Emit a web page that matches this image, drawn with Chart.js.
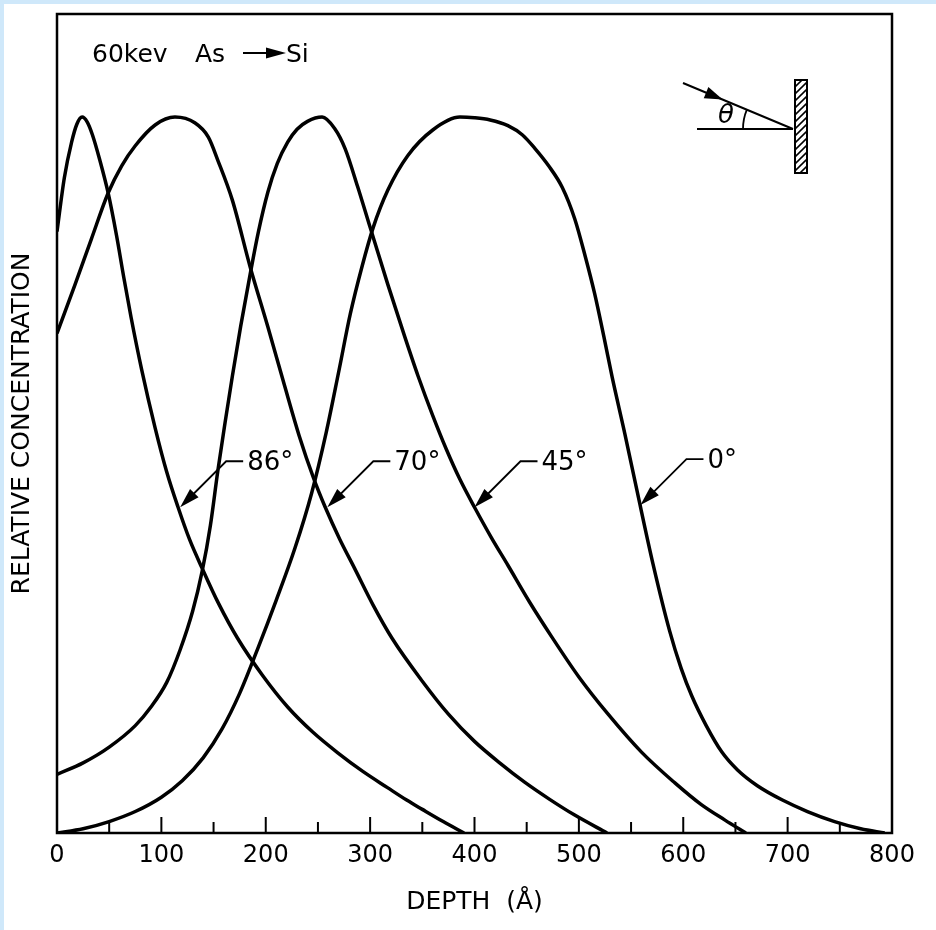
<!DOCTYPE html>
<html>
<head>
<meta charset="utf-8">
<script src="https://cdn.jsdelivr.net/npm/chart.js@4.4.1/dist/chart.umd.min.js"></script>
<style>
  html, body { margin: 0; padding: 0; background: #cfe8fa; }
  #wrap { position: absolute; left: 4px; top: 4px; width: 932px; height: 926px; background: #fff; }
</style>
</head>
<body>
<div id="wrap"><canvas id="myCanvas" width="932" height="926"></canvas></div>
<script>
'use strict';

// depth in angstrom, concentration relative to the peak (= 100)
const depth86 = [0, 7, 14, 19, 24, 29, 34, 41, 49, 57, 64, 71, 81, 94, 105, 116, 127, 139, 155, 173, 197, 221, 245, 269, 293, 317, 335, 350, 370, 390];
const conc86 = [84, 91.5, 96.5, 99, 100, 99.3, 97.5, 94, 89.4, 83.5, 77.6, 72, 64.8, 56.6, 50.5, 45.5, 41, 37, 32, 27.2, 22, 17.6, 14.1, 11.2, 8.6, 6.3, 4.6, 3.3, 1.6, 0];

const depth70 = [0, 17, 33, 49, 62, 75, 94, 113, 132, 145, 154, 168, 185, 202, 218, 232, 246, 257, 271, 285, 303, 321, 350, 375, 400, 425, 448, 472, 496, 527];
const conc70 = [69.8, 76.5, 83, 89.4, 93.2, 96, 98.9, 100, 99.2, 97.2, 94.0, 88.4, 79.1, 70.7, 62.5, 55.5, 49.5, 45.5, 41, 37, 31.8, 27.2, 21.2, 16.6, 12.8, 9.7, 7.1, 4.7, 2.5, 0];

const depth45 = [0, 25, 50, 75, 90, 105, 118, 130, 139, 147, 154, 161, 168, 176, 185, 193, 202, 211, 221, 230, 240, 254, 266, 276, 288, 300, 317, 333, 346, 360, 373, 386, 400, 416, 432, 453, 474, 500, 528, 560, 592, 617, 640, 660];
const conc45 = [8.2, 9.8, 12.0, 15.0, 17.6, 21.0, 25.6, 31.0, 36.5, 43.0, 50.5, 57.3, 63.8, 70.8, 78, 84, 89.5, 93.5, 96.5, 98.3, 99.4, 100, 98.4, 95.6, 90.3, 84.6, 76.6, 69.4, 63.8, 58.3, 53.6, 49.4, 45.5, 41.3, 37.4, 32.2, 27.4, 21.8, 16.6, 11.3, 7.0, 4.0, 1.8, 0];

const depth0 = [0, 25, 50, 75, 100, 120, 140, 158, 175, 193, 210, 228, 244, 258, 270, 281, 292, 303, 317, 336, 360, 386, 400, 415, 432, 446, 458, 471, 484, 496, 506, 515, 524, 532, 544, 556, 571, 587, 598, 608, 622, 637, 652, 671, 695, 719, 745, 770, 793];
const conc0 = [0, 0.6, 1.6, 3.0, 5.0, 7.3, 10.5, 14.5, 19.5, 26, 32.5, 39.8, 47.5, 56, 64.5, 72.5, 79, 84.6, 89.8, 94.6, 98.2, 100, 99.9, 99.6, 98.8, 97.5, 95.6, 93.2, 90.2, 85.8, 80.6, 75.4, 69.3, 63.6, 55.8, 47.6, 37.6, 28.2, 23.0, 19.2, 15.0, 11.3, 8.8, 6.6, 4.6, 3.0, 1.6, 0.6, 0];

// curve labels and where their arrows point (depth, concentration)
const angleLabels = ['86°', '70°', '45°', '0°'];
const labelTipDepth = [118, 259, 400, 559];
const labelTipConc = [45.5, 45.5, 45.5, 45.8];

const FONT = "'DejaVu Sans', sans-serif";

function toPoints(depths, concs) {
  return depths.map((d, i) => ({ x: d, y: concs[i] }));
}

function arrowHead(ctx, tx, ty, fx, fy, len, half) {
  const a = Math.atan2(ty - fy, tx - fx);
  ctx.beginPath();
  ctx.moveTo(tx, ty);
  ctx.lineTo(tx - len * Math.cos(a) + half * Math.sin(a), ty - len * Math.sin(a) - half * Math.cos(a));
  ctx.lineTo(tx - len * Math.cos(a) - half * Math.sin(a), ty - len * Math.sin(a) + half * Math.cos(a));
  ctx.closePath();
  ctx.fill();
}

const decorations = {
  id: 'decorations',
  afterDatasetsDraw(chart) {
    const { ctx, chartArea: a, scales: { x, y } } = chart;
    ctx.save();
    ctx.strokeStyle = '#000';
    ctx.fillStyle = '#000';

    // frame
    ctx.lineWidth = 2.5;
    ctx.strokeRect(a.left, a.top, a.right - a.left, a.bottom - a.top);

    // inward ticks on the depth axis, major every 100, minor every 50
    ctx.lineWidth = 2;
    for (let v = 0; v <= 800; v += 50) {
      const px = x.getPixelForValue(v);
      const len = v % 100 === 0 ? 16 : 11;
      ctx.beginPath();
      ctx.moveTo(px, a.bottom);
      ctx.lineTo(px, a.bottom - len);
      ctx.stroke();
    }

    // title inside the frame
    ctx.font = '25px ' + FONT;
    ctx.textBaseline = 'alphabetic';
    ctx.textAlign = 'left';
    const by = a.top + 48;
    ctx.fillText('60kev', a.left + 35, by);
    ctx.fillText('As', a.left + 138, by);
    ctx.fillText('Si', a.left + 229, by);
    ctx.lineWidth = 2;
    ctx.beginPath();
    ctx.moveTo(a.left + 186, a.top + 39);
    ctx.lineTo(a.left + 215, a.top + 39);
    ctx.stroke();
    arrowHead(ctx, a.left + 229, a.top + 39, a.left + 186, a.top + 39, 20, 5.5);

    // geometry inset
    const ox = a.right - 99, oy = a.top + 115;
    ctx.lineWidth = 2;
    ctx.beginPath();
    ctx.moveTo(ox - 110, oy - 46);
    ctx.lineTo(ox, oy);
    ctx.moveTo(ox - 96, oy);
    ctx.lineTo(ox, oy);
    ctx.stroke();
    const ang = Math.atan2(46, 110);
    const hx = ox - 110 + 43 * Math.cos(ang), hy = oy - 46 + 43 * Math.sin(ang);
    arrowHead(ctx, hx, hy, ox - 110, oy - 46, 18, 6);
    ctx.lineWidth = 1.8;
    ctx.beginPath();
    ctx.arc(ox, oy, 50, Math.PI, Math.PI + ang);
    ctx.stroke();
    ctx.font = 'italic 26px ' + FONT;
    ctx.textAlign = 'center';
    ctx.textBaseline = 'middle';
    ctx.fillText('θ', ox - 67, oy - 13);
    // hatched wall
    const rx = ox + 2, ry = oy - 49, rw = 12, rh = 93;
    ctx.save();
    ctx.beginPath();
    ctx.rect(rx, ry, rw, rh);
    ctx.clip();
    ctx.lineWidth = 1.6;
    for (let k = -rw; k < rh + rw; k += 7) {
      ctx.beginPath();
      ctx.moveTo(rx, ry + k + rw);
      ctx.lineTo(rx + rw, ry + k);
      ctx.stroke();
    }
    ctx.restore();
    ctx.lineWidth = 2;
    ctx.strokeRect(rx, ry, rw, rh);

    // curve labels with leader arrows
    ctx.font = '26px ' + FONT;
    ctx.textAlign = 'left';
    ctx.textBaseline = 'middle';
    for (let i = 0; i < angleLabels.length; i++) {
      const tx = x.getPixelForValue(labelTipDepth[i]);
      const ty = y.getPixelForValue(labelTipConc[i]);
      const ex = tx + 46, ey = ty - 46;
      ctx.lineWidth = 1.8;
      ctx.beginPath();
      ctx.moveTo(tx + 6, ty - 6);
      ctx.lineTo(ex, ey);
      ctx.lineTo(ex + 17, ey);
      ctx.stroke();
      arrowHead(ctx, tx, ty, ex, ey, 20, 6);
      ctx.fillText(angleLabels[i], ex + 21, ey + 2);
    }
    ctx.restore();
  }
};

const lineStyle = { borderColor: '#000', borderWidth: 3.5, pointRadius: 0, fill: false, cubicInterpolationMode: 'monotone' };

const config = {
  type: 'line',
  data: {
    datasets: [
      Object.assign({ label: '86°', data: toPoints(depth86, conc86) }, lineStyle),
      Object.assign({ label: '70°', data: toPoints(depth70, conc70) }, lineStyle),
      Object.assign({ label: '45°', data: toPoints(depth45, conc45) }, lineStyle),
      Object.assign({ label: '0°', data: toPoints(depth0, conc0) }, lineStyle)
    ]
  },
  options: {
    responsive: false,
    animation: false,
    events: [],
    layout: { padding: { left: 0, top: 10, right: 44, bottom: 0 } },
    plugins: { legend: { display: false }, tooltip: { enabled: false } },
    scales: {
      x: {
        type: 'linear',
        min: 0,
        max: 800,
        grid: { display: false, drawTicks: false, tickLength: 0 },
        border: { display: false },
        ticks: { stepSize: 100, color: '#000', font: { family: FONT, size: 24 }, padding: 8, maxRotation: 0 },
        title: { display: true, text: 'DEPTH  (Å)', color: '#000', font: { family: FONT, size: 25 }, padding: { top: 0, bottom: 13 } },
        afterFit(s) { s.height = 97; }
      },
      y: {
        type: 'linear',
        min: 0,
        max: 114.4,
        grid: { display: false, drawTicks: false },
        border: { display: false },
        ticks: { display: false },
        title: { display: true, text: 'RELATIVE CONCENTRATION', color: '#000', font: { family: FONT, size: 25 }, padding: { top: 3, bottom: 0 } },
        afterFit(s) { s.width = 53; }
      }
    }
  },
  plugins: [decorations]
};

const myChart = new Chart(document.getElementById('myCanvas'), config);
</script>
</body>
</html>
